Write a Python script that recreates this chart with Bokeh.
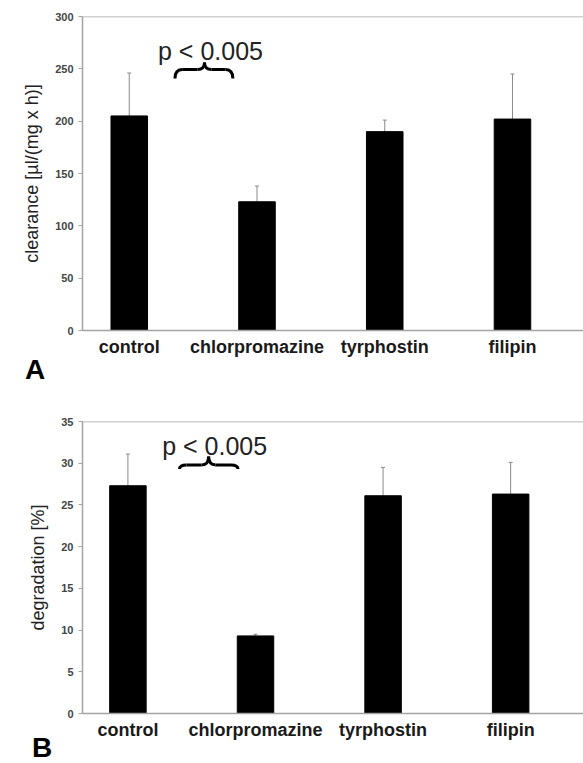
from bokeh.plotting import figure
from bokeh.layouts import column
from bokeh.models import (ColumnDataSource, Range1d, FixedTicker, Label, Span,
                          Whisker, TeeHead, Div)
from bokeh.embed import file_html
from bokeh.resources import INLINE

# ---------------- data ----------------
categories = ["control", "chlorpromazine", "tyrphostin", "filipin"]
clearance = [205, 123, 190, 202]
clearance_err = [41, 15, 11, 43]
degradation = [27.3, 9.3, 26.1, 26.3]
degradation_err = [3.8, 0.2, 3.4, 3.8]
clearance_ticks = [0, 50, 100, 150, 200, 250, 300]
degradation_ticks = [0, 5, 10, 15, 20, 25, 30, 35]
p_text = "p < 0.005"

AXIS_GREY = "#a3a3a3"
FONT = "Liberation Sans"


def panel(values, errs, ticks, ylabel, height, x_start, x_end,
          min_left, min_top, min_bottom, p_pos, brace, label_standoff):
    p = figure(width=583, height=height, output_backend="svg",
               toolbar_location=None, tools="",
               x_range=Range1d(x_start, x_end),
               y_range=Range1d(ticks[0], ticks[-1]),
               min_border_left=min_left, min_border_right=0,
               min_border_top=min_top, min_border_bottom=min_bottom)
    p.outline_line_color = None
    p.grid.grid_line_color = None
    p.background_fill_color = "white"

    idx = list(range(len(categories)))
    tops = [v + e for v, e in zip(values, errs)]
    src = ColumnDataSource(dict(x=idx, top=values, upper=tops, cat=categories))
    p.vbar(x="x", top="top", width=0.286, source=src,
           fill_color="black", line_color="black")
    w = Whisker(base="x", lower="top", upper="upper", source=src,
                line_color="#8a8a8a", line_width=1,
                upper_head=TeeHead(size=4, line_color="#8a8a8a", line_width=1),
                lower_head=None, level="underlay")
    p.add_layout(w)

    # top frame line
    p.add_layout(Span(location=ticks[-1], dimension="width",
                      line_color=AXIS_GREY, line_width=1.5))

    # axes
    xa = p.xaxis[0]
    xa.ticker = FixedTicker(ticks=idx)
    xa.major_label_overrides = {i: c for i, c in enumerate(categories)}
    xa.major_tick_line_color = None
    xa.minor_tick_line_color = None
    xa.axis_line_color = AXIS_GREY
    xa.axis_line_width = 1.5
    xa.major_label_text_font = FONT
    xa.major_label_text_font_style = "bold"
    xa.major_label_text_font_size = "18px"
    xa.major_label_text_color = "#1a1a1a"
    xa.major_label_standoff = label_standoff

    ya = p.yaxis[0]
    ya.ticker = FixedTicker(ticks=ticks)
    ya.minor_tick_line_color = None
    ya.major_tick_in = 0
    ya.major_tick_out = 4
    ya.major_tick_line_color = AXIS_GREY
    ya.axis_line_color = AXIS_GREY
    ya.axis_line_width = 1.5
    ya.major_label_text_font = FONT
    ya.major_label_text_font_style = "bold"
    ya.major_label_text_font_size = "11px"
    ya.major_label_text_color = "#444444"
    ya.major_label_standoff = 5
    ya.axis_label = ylabel
    ya.axis_label_text_font = FONT
    ya.axis_label_text_font_style = "normal"
    ya.axis_label_text_font_size = "18px"
    ya.axis_label_text_color = "#222222"
    ya.axis_label_standoff = 10

    # significance text and brace
    px, py = p_pos
    p.add_layout(Label(x=px, y=py, text=p_text, text_align="center",
                       text_baseline="alphabetic", text_font=FONT,
                       text_font_size="25px", text_color="#222222"))
    x0, xc, x1, yb, ym, yt, r = brace
    p.quadratic(x0=[x0, x1], y0=[yb, yb], x1=[x0 + r, x1 - r], y1=[ym, ym],
                cx=[x0, x1], cy=[ym, ym], line_color="black", line_width=3)
    p.segment(x0=[x0 + r, xc + r], y0=[ym, ym], x1=[xc - r, x1 - r], y1=[ym, ym],
              line_color="black", line_width=3)
    p.quadratic(x0=[xc - r, xc + r], y0=[ym, ym], x1=[xc, xc], y1=[yt, yt],
                cx=[xc, xc], cy=[ym, ym], line_color="black", line_width=3)
    return p


def letter_strip(letter, height, line_height, left):
    html = ('<div style="font-family:\'Liberation Sans\',Arial,sans-serif;'
            'font-weight:bold;font-size:28px;line-height:%dpx;'
            'padding-left:%dpx;color:black;margin:0">%s</div>'
            % (line_height, left, letter))
    return Div(text=html, width=583, height=height, margin=0)


pA = panel(clearance, clearance_err, clearance_ticks,
           "clearance [µl/(mg x h)]", 359,
           -0.366, 3.556, 82, 16, 29,
           (0.636, 267.4), (0.358, 0.589, 0.811, 240.7, 249.3, 256.0, 0.056), 0)
sA = letter_strip("A", 21, 21, 25)
pB = panel(degradation, degradation_err, degradation_ticks,
           "degradation [%]", 362,
           -0.356, 3.571, 79, 41, 29,
           (0.68, 32.1), (0.404, 0.633, 0.863, 29.3, 29.8, 30.8, 0.055), 0)
sB = letter_strip("B", 21, 12, 32)

layout = column(pA, sA, pB, sB, spacing=0)
open("out.html", "w").write(file_html(layout, INLINE))
